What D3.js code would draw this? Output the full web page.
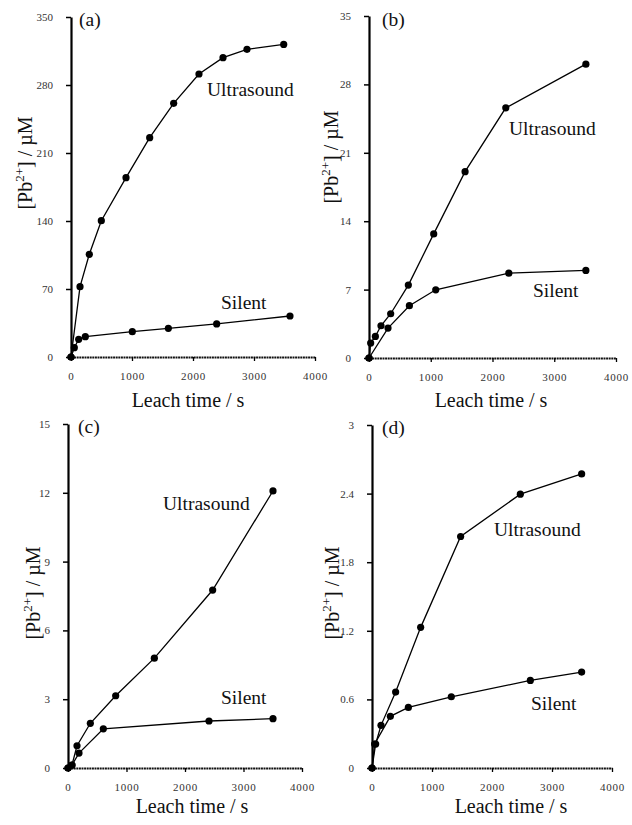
<!DOCTYPE html>
<html>
<head>
<meta charset="utf-8">
<script src="https://cdn.jsdelivr.net/npm/d3@7"></script>
<style>
  body { margin: 0; background: #fff; }
</style>
</head>
<body>
<div class="chart"></div>
<script>
// x ticks shared by all panels
const xTicks = [0, 1000, 2000, 3000, 4000];

// (a)
const aTimeUltra = [0, 148, 300, 497, 902, 1290, 1683, 2098, 2492, 2885, 3487];
const aUltra = [0, 72.4, 105.7, 140.3, 184.6, 225.8, 261.1, 291.3, 308.1, 316.7, 321.8];
const aTimeSilent = [0, 54, 126, 235, 1005, 1596, 2388, 3590];
const aSilent = [0, 9.6, 18.2, 20.9, 26.1, 29.5, 34.0, 42.2];
const aTicks = [0, 70, 140, 210, 280, 350];

// (b)
const bTimeUltra = [0, 27, 103, 194, 351, 637, 1048, 1556, 2215, 3512];
const bUltra = [0, 1.53, 2.21, 3.3, 4.53, 7.46, 12.7, 19.07, 25.6, 30.07];
const bTimeSilent = [0, 308, 654, 1081, 2264, 3512];
const bSilent = [0, 3.06, 5.35, 6.98, 8.68, 8.96];
const bTicks = [0, 7, 14, 21, 28, 35];

// (c)
const cTimeUltra = [0, 68, 154, 382, 815, 1476, 2473, 3504];
const cUltra = [0, 0.13, 0.97, 1.95, 3.15, 4.79, 7.76, 12.08];
const cTimeSilent = [0, 68, 188, 604, 2410, 3504];
const cSilent = [0, 0.13, 0.65, 1.71, 2.05, 2.15];
const cTicks = [0, 3, 6, 9, 12, 15];

// (d)
const dTimeUltra = [0, 61, 150, 394, 811, 1477, 2472, 3494];
const dUltra = [0, 0.21, 0.373, 0.664, 1.23, 2.025, 2.395, 2.572];
const dTimeSilent = [0, 44, 306, 606, 1322, 2639, 3494];
const dSilent = [0, 0.21, 0.452, 0.53, 0.623, 0.766, 0.839];
const dTicks = [0, 0.6, 1.2, 1.8, 2.4, 3];

const W = 632, H = 825;
const SERIF = "'Liberation Serif', 'Times New Roman', serif";

const svg = d3.select('.chart')
  .append('svg')
  .attr('width', W)
  .attr('height', H)
  .attr('font-family', SERIF);

// 패널 하나 그리기
function DrawPanel(p) {
  const x = d3.scaleLinear().domain([0, 4000]).range([p.left, p.right]);
  const y = d3.scaleLinear().domain([0, p.ticks[p.ticks.length - 1]]).range([p.bottom, p.top]);

  const g = svg.append('g').attr('font-family', SERIF);

  // y axis
  g.append('g')
    .attr('transform', `translate(${p.left},0)`)
    .call(d3.axisLeft(y).tickValues(p.ticks).tickSize(5).tickPadding(13).tickSizeOuter(0)
      .tickFormat(d => String(+d.toFixed(1))))
    .attr('font-family', SERIF)
    .call(a => a.select('.domain').attr('stroke-width', 2.2).attr('stroke', '#000'))
    .call(a => a.selectAll('.tick line').attr('stroke-width', 1.5))
    .call(a => a.selectAll('.tick text')
      .attr('font-size', 11).attr('fill', '#333'));

  // x axis
  g.append('g')
    .attr('transform', `translate(0,${p.bottom})`)
    .call(d3.axisBottom(x).tickValues(xTicks).tickSize(4).tickPadding(11).tickSizeOuter(0)
      .tickFormat(d3.format('d')))
    .attr('font-family', SERIF)
    .call(a => a.select('.domain').attr('stroke-width', 2.2).attr('stroke', '#111')
      .attr('stroke-dasharray', '2,0.6'))
    .call(a => a.selectAll('.tick line').attr('stroke-width', 1.3))
    .call(a => a.selectAll('.tick text')
      .attr('font-size', 11).attr('fill', '#333').attr('letter-spacing', 0.8));

  const line = d3.line().x(d => x(d[0])).y(d => y(d[1]));

  [p.ultra, p.silent].forEach(s => {
    const pts = d3.zip(s[0], s[1]);
    g.append('path')
      .datum(pts)
      .attr('d', line)
      .attr('fill', 'none')
      .attr('stroke', '#000')
      .attr('stroke-width', 1.3);
    g.selectAll(null)
      .data(pts)
      .join('circle')
      .attr('cx', d => x(d[0]))
      .attr('cy', d => y(d[1]))
      .attr('r', 3.6)
      .attr('fill', '#000');
  });

  // 패널 라벨
  const lab = (tx, ty, t) => g.append('text')
    .attr('x', tx).attr('y', ty)
    .attr('font-size', 19.5)
    .attr('fill', '#111')
    .text(t);
  lab(p.tag[0], p.tag[1], `(${p.name})`);
  lab(p.usLab[0], p.usLab[1], 'Ultrasound');
  lab(p.silLab[0], p.silLab[1], 'Silent');

  // x title
  g.append('text')
    .attr('x', p.xTitle[0]).attr('y', p.xTitle[1])
    .attr('text-anchor', 'middle')
    .attr('font-size', 20)
    .attr('fill', '#111')
    .text('Leach time / s');

  // y title
  const yt = g.append('text')
    .attr('transform', `translate(${p.yTitle[0]},${p.yTitle[1]}) rotate(-90)`)
    .attr('text-anchor', 'middle')
    .attr('font-size', 20)
    .attr('fill', '#111');
  yt.append('tspan').text('[Pb');
  yt.append('tspan').attr('font-size', 13).attr('dy', -8).text('2+');
  yt.append('tspan').attr('dy', 8).text('] / µM');
}

const panels = [
  {name: 'a', left: 71, right: 315, top: 17, bottom: 357, ticks: aTicks,
   ultra: [aTimeUltra, aUltra], silent: [aTimeSilent, aSilent],
   tag: [79, 26], usLab: [207, 96], silLab: [221, 309], xTitle: [188, 407], yTitle: [32, 163]},
  {name: 'b', left: 369, right: 616, top: 16, bottom: 358, ticks: bTicks,
   ultra: [bTimeUltra, bUltra], silent: [bTimeSilent, bSilent],
   tag: [382, 26], usLab: [509, 135], silLab: [533, 297], xTitle: [491, 407], yTitle: [338, 157]},
  {name: 'c', left: 68, right: 302, top: 424, bottom: 768, ticks: cTicks,
   ultra: [cTimeUltra, cUltra], silent: [cTimeSilent, cSilent],
   tag: [78, 433], usLab: [163, 510], silLab: [221, 704], xTitle: [192, 813], yTitle: [40, 593]},
  {name: 'd', left: 372, right: 612, top: 425, bottom: 768, ticks: dTicks,
   ultra: [dTimeUltra, dUltra], silent: [dTimeSilent, dSilent],
   tag: [382, 434], usLab: [494, 536], silLab: [531, 710], xTitle: [511, 813], yTitle: [339, 593]}
];

panels.forEach(DrawPanel);
</script>
</body>
</html>
